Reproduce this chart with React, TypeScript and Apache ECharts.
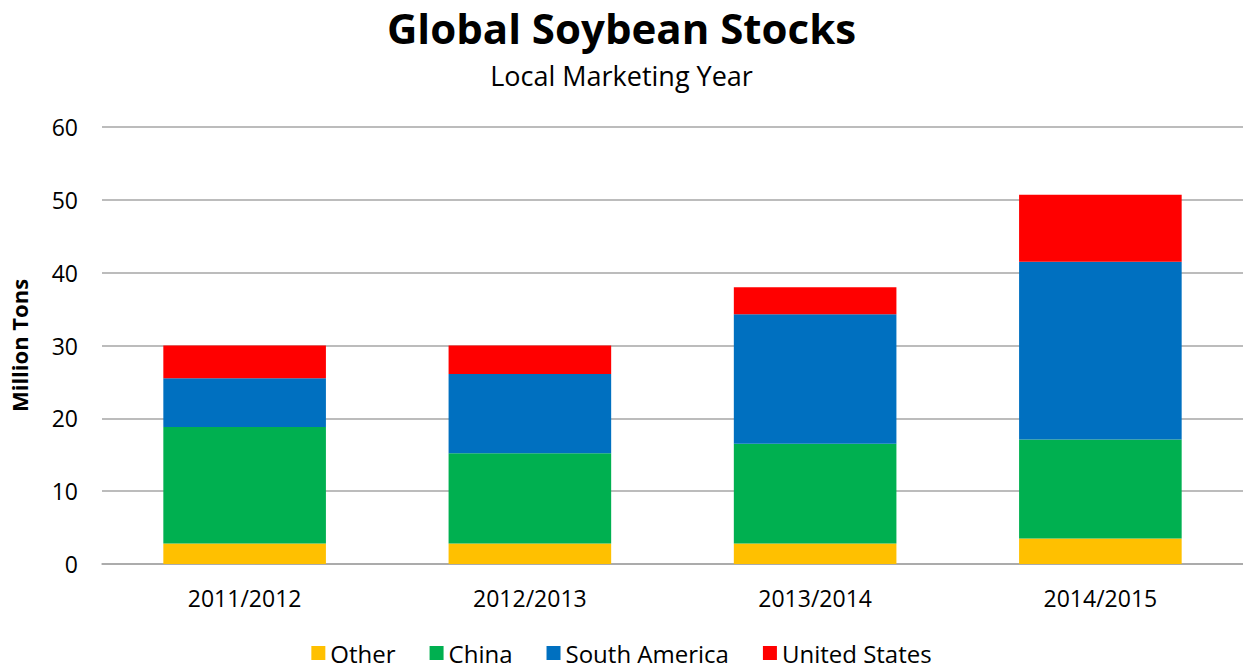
import React, { useEffect, useRef } from "react";
import * as echarts from "echarts";

const categories = ["2011/2012", "2012/2013", "2013/2014", "2014/2015"];
const other = [2.8, 2.8, 2.8, 3.5];
const china = [16.0, 12.4, 13.7, 13.6];
const southAmerica = [6.7, 10.9, 17.8, 24.4];
const unitedStates = [4.5, 3.9, 3.7, 9.2];
const yTicks = { min: 0, max: 60, interval: 10 };

const FONT = "'Open Sans', 'Noto Sans', sans-serif";

export default function App() {
  const ref = useRef<HTMLDivElement>(null);
  useEffect(() => {
    if (!ref.current) return;
    const chart = echarts.init(ref.current, undefined, { renderer: "svg" });
    const mk = (name: string, data: number[], color: string) => ({
      name,
      type: "bar",
      stack: "total",
      data,
      barWidth: "57%",
      itemStyle: { color },
    });
    chart.setOption({
      animation: false,
      textStyle: { fontFamily: FONT },
      title: [
        {
          text: "Global Soybean Stocks",
          left: "center",
          top: 1,
          textStyle: { fontSize: 42, fontWeight: "bold", color: "#000", fontFamily: FONT },
        },
        {
          text: "Local Marketing Year",
          left: "center",
          top: 57,
          textStyle: { fontSize: 27, fontWeight: "normal", color: "#000", fontFamily: FONT },
        },
      ],
      legend: {
        bottom: -2,
        left: "center",
        itemWidth: 14,
        itemHeight: 14,
        itemGap: 34,
        icon: "rect",
        textStyle: { fontSize: 24, color: "#000", fontFamily: FONT },
        data: ["Other", "China", "South America", "United States"],
      },
      grid: { left: 100, right: 0, top: 127, bottom: 104 },
      xAxis: {
        type: "category",
        data: categories,
        axisLine: { show: true, lineStyle: { color: "#a6a6a6", width: 1.5 } },
        axisTick: { show: false },
        axisLabel: { fontSize: 23, color: "#000", margin: 22, fontFamily: FONT },
      },
      yAxis: {
        type: "value",
        min: yTicks.min,
        max: yTicks.max,
        interval: yTicks.interval,
        name: "Million Tons",
        nameLocation: "middle",
        nameGap: 72,
        nameTextStyle: { fontSize: 22, fontWeight: "bold", color: "#000", fontFamily: FONT },
        axisLine: { show: false },
        axisTick: { show: false },
        axisLabel: { fontSize: 23, color: "#000", margin: 24, fontFamily: FONT },
        splitLine: { lineStyle: { color: "#a6a6a6", width: 1.5 } },
      },
      series: [
        mk("Other", other, "#ffc000"),
        mk("China", china, "#00b050"),
        mk("South America", southAmerica, "#0070c0"),
        mk("United States", unitedStates, "#ff0000"),
      ],
    });
    return () => chart.dispose();
  }, []);
  return (
    <div
      ref={ref}
      style={{ position: "absolute", left: 0, top: 0, width: 1243, height: 668, background: "#fff" }}
    />
  );
}
